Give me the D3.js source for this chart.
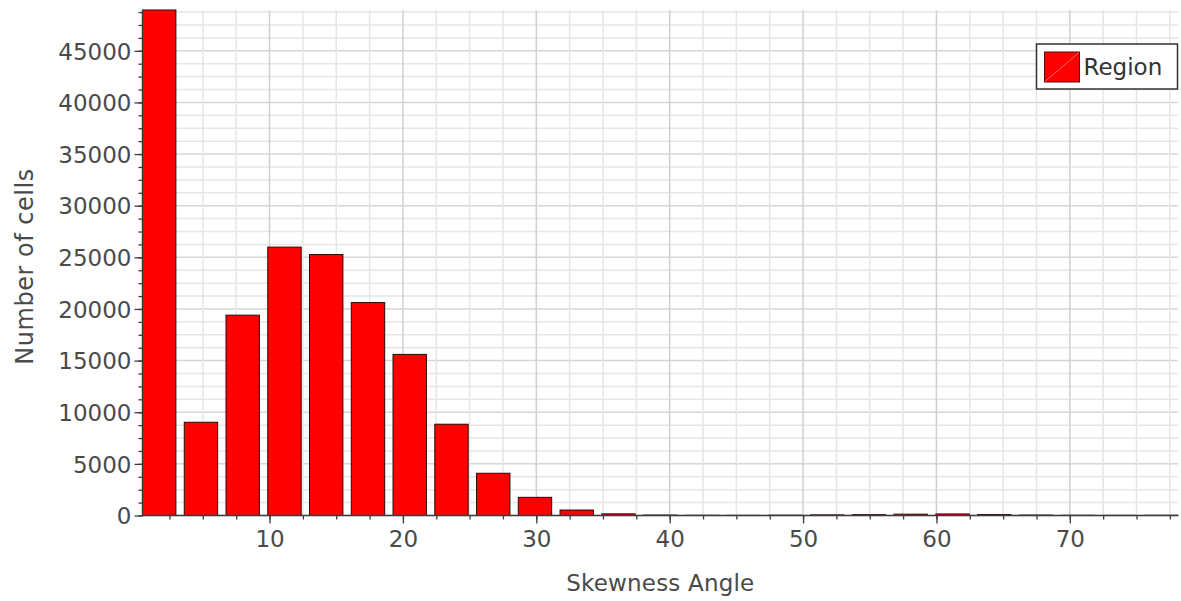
<!DOCTYPE html>
<html>
<head>
<meta charset="utf-8">
<script src="https://cdn.jsdelivr.net/npm/d3@7/dist/d3.min.js"></script>
<style>
  html, body { margin: 0; padding: 0; background: #ffffff; }
  svg { display: block; }
  text { font-family: "DejaVu Sans", Verdana, sans-serif; }
</style>
</head>
<body>
<svg id="chart" width="1181" height="601"></svg>
<script>
// Histogram of cell skewness angles (degrees): lower edge of each bin and its count.
const binStarts = [0.475, 3.606, 6.736, 9.867, 12.997, 16.128, 19.258, 22.389, 25.519,
  28.650, 31.780, 34.911, 38.041, 41.172, 44.302, 47.433, 50.563, 53.694, 56.824,
  59.955, 63.085, 66.216, 69.346, 72.477, 75.607];
const counts = [48950, 9030, 19400, 25990, 25270, 20620, 15600, 8840, 4090, 1760,
  530, 160, 40, 20, 15, 30, 60, 80, 130, 150, 90, 40, 20, 15, 20];
const barSpan = 2.504;              // drawn width of each bar, in degrees
const seriesName = "Region";
const xTickValues = [10, 20, 30, 40, 50, 60, 70];
const yTickValues = [0, 5000, 10000, 15000, 20000, 25000, 30000, 35000, 40000, 45000];
const xLabel = "Skewness Angle";
const yLabel = "Number of cells";

const svg = d3.select("#chart");
const plot = { left: 142.5, right: 1178, top: 10, bottom: 515.5 };

const xMin = binStarts[0];
const xMax = binStarts[binStarts.length - 1] + barSpan;
const x = d3.scaleLinear().domain([xMin, xMax]).range([plot.left, plot.right]);
const y = d3.scaleLinear().domain([0, d3.max(counts)]).range([plot.bottom, plot.top]);

const xMinor = d3.range(2.5, xMax, 2.5);
const yMinor = d3.range(0, d3.max(counts), 1250);

// grid
const grid = svg.append("g");
grid.selectAll("line.gy").data(yMinor).join("line")
  .attr("x1", plot.left).attr("x2", plot.right)
  .attr("y1", d => y(d)).attr("y2", d => y(d))
  .attr("stroke", d => d % 5000 === 0 ? "#d6d6d6" : "#e6e6e6")
  .attr("stroke-width", 1.5);
grid.selectAll("line.gx").data(xMinor).join("line")
  .attr("y1", plot.top).attr("y2", plot.bottom)
  .attr("x1", d => x(d)).attr("x2", d => x(d))
  .attr("stroke", d => d % 10 === 0 ? "#d0d0d0" : "#e6e6e6")
  .attr("stroke-width", 1.5);

// bars
const bins = binStarts.map((s, i) => ({ start: s, count: counts[i] }));
svg.append("g").selectAll("rect").data(bins).join("rect")
  .attr("x", d => x(d.start))
  .attr("width", d => x(d.start + barSpan) - x(d.start))
  .attr("y", d => y(d.count))
  .attr("height", d => y(0) - y(d.count))
  .attr("fill", "#ff0000")
  .attr("stroke", "#2a0808")
  .attr("stroke-width", 1);

// axes: minor ticks first, then major ticks with labels
const axisColor = "#3c3c3c";
const labelColor = "#4a4a4a";

const gxMinor = svg.append("g").attr("transform", `translate(0,${plot.bottom})`)
  .call(d3.axisBottom(x).tickValues(xMinor).tickSize(4).tickFormat(""));
const gx = svg.append("g").attr("transform", `translate(0,${plot.bottom})`)
  .call(d3.axisBottom(x).tickValues(xTickValues).tickSize(8).tickFormat(d3.format("d")));
const gyMinor = svg.append("g").attr("transform", `translate(${plot.left},0)`)
  .call(d3.axisLeft(y).tickValues(yMinor).tickSize(4).tickFormat(""));
const gy = svg.append("g").attr("transform", `translate(${plot.left},0)`)
  .call(d3.axisLeft(y).tickValues(yTickValues).tickSize(8).tickFormat(d3.format("d")));

[gxMinor, gx, gyMinor, gy].forEach(g => {
  g.select(".domain").remove();
  g.selectAll(".tick line").attr("stroke", axisColor).attr("stroke-width", 1.3);
});
gx.selectAll(".tick text")
  .attr("y", 31).attr("dy", 0)
  .attr("fill", labelColor).attr("font-size", 23)
  .attr("font-family", "DejaVu Sans");
gy.selectAll(".tick text")
  .attr("x", -11).attr("dy", "0.36em")
  .attr("fill", labelColor).attr("font-size", 23)
  .attr("font-family", "DejaVu Sans");

// axis lines
svg.append("line")
  .attr("x1", plot.left).attr("x2", plot.right)
  .attr("y1", plot.bottom).attr("y2", plot.bottom)
  .attr("stroke", axisColor).attr("stroke-width", 1.5);
svg.append("line")
  .attr("x1", plot.left).attr("x2", plot.left)
  .attr("y1", plot.top).attr("y2", plot.bottom)
  .attr("stroke", axisColor).attr("stroke-width", 1.5);

// axis titles
svg.append("text")
  .attr("x", (plot.left + plot.right) / 2).attr("y", 591)
  .attr("text-anchor", "middle")
  .attr("font-size", 23).attr("fill", labelColor)
  .attr("textLength", 188).attr("lengthAdjust", "spacing")
  .text(xLabel);
svg.append("text")
  .attr("transform", `translate(33,${(plot.top + plot.bottom) / 2 + 4}) rotate(-90)`)
  .attr("text-anchor", "middle")
  .attr("font-size", 24).attr("fill", labelColor)
  .attr("textLength", 196).attr("lengthAdjust", "spacing")
  .text(yLabel);

// legend
const legend = svg.append("g").attr("transform", "translate(1036.5,44)");
legend.append("rect")
  .attr("width", 141).attr("height", 45)
  .attr("fill", "#ffffff").attr("stroke", "#333333").attr("stroke-width", 1.5);
legend.append("rect")
  .attr("x", 8).attr("y", 8).attr("width", 35).attr("height", 30)
  .attr("fill", "#ff0000").attr("stroke", "#5a0a0a").attr("stroke-width", 1);
legend.append("line")
  .attr("x1", 8.5).attr("y1", 37.5).attr("x2", 42.5).attr("y2", 8.5)
  .attr("stroke", "#ff8080").attr("stroke-width", 0.8);
legend.append("text")
  .attr("x", 47).attr("y", 31)
  .attr("font-size", 23).attr("fill", "#333333")
  .text(seriesName);
</script>
</body>
</html>
